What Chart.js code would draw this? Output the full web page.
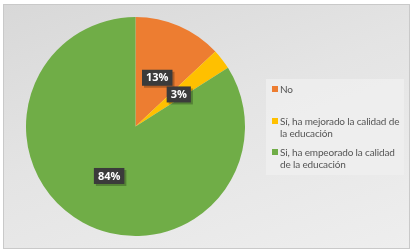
<!DOCTYPE html>
<html>
<head>
<meta charset="utf-8">
<script src="https://cdn.jsdelivr.net/npm/chart.js@4/dist/chart.umd.min.js"></script>
<style>
  html, body { margin: 0; padding: 0; background: #ffffff; }
  #frame {
    position: absolute; left: 3px; top: 4px; width: 405px; height: 243px;
    border: 1px solid #c9c9c9;
    background: linear-gradient(160deg, #d8d8d8 0%, #e4e4e4 45%, #eeeeee 100%);
  }
  #wrap { position: absolute; left: 0; top: 0; width: 412px; height: 251px; }
  #legend {
    position: absolute; left: 266px; top: 79px; width: 138px; height: 96px;
    background: rgba(238, 238, 238, 0.85);
    font-family: Lato, "Open Sans", sans-serif; font-size: 10px; letter-spacing: -0.15px;
    color: #555555; line-height: 12px;
  }
  .item { position: absolute; left: 14px; width: 124px; white-space: nowrap; }
  .sw { position: absolute; left: -8px; top: 3px; width: 6px; height: 6px; }
</style>
</head>
<body>
<div id="frame"></div>
<div id="wrap"><canvas id="pie" width="412" height="251"></canvas></div>
<div id="legend"></div>
<script>
const labels = ["No", "Sí, ha mejorado la calidad de la educación", "Si, ha empeorado la calidad de la educación"];
const legendLines = [["No"], ["Sí, ha mejorado la calidad de", "la educación"], ["Si, ha empeorado la calidad", "de la educación"]];
const values = [13, 3, 84];
const colors = ["#ED7D31", "#FFC000", "#70AD47"];
const legendTops = [4, 36, 67];

// legend built from the arrays
const legend = document.getElementById("legend");
legendLines.forEach((lines, i) => {
  const div = document.createElement("div");
  div.className = "item";
  div.style.top = legendTops[i] + "px";
  div.innerHTML = '<span class="sw" style="background:' + colors[i] + '"></span>' + lines.join("<br>");
  legend.appendChild(div);
});

// dark boxed percent labels at each slice's middle
const boxLabels = {
  id: "boxLabels",
  afterDatasetsDraw(chart) {
    const ctx = chart.ctx;
    const meta = chart.getDatasetMeta(0);
    ctx.save();
    ctx.font = "bold 11px 'Open Sans', sans-serif";
    ctx.textAlign = "center";
    ctx.textBaseline = "middle";
    meta.data.forEach((arc, i) => {
      const p = arc.tooltipPosition();
      const y = p.y + 1.5;
      const txt = values[i] + "%";
      const w = ctx.measureText(txt).width + 8;
      const h = 16;
      ctx.fillStyle = "rgba(0,0,0,0.25)";
      ctx.fillRect(p.x - w / 2 + 2, y - h / 2 + 2, w, h);
      ctx.fillStyle = "#3b3b3b";
      ctx.fillRect(p.x - w / 2, y - h / 2, w, h);
      ctx.fillStyle = "#ffffff";
      ctx.fillText(txt, p.x, y + 0.5);
    });
    ctx.restore();
  }
};

new Chart(document.getElementById("pie"), {
  type: "pie",
  data: {
    labels: labels,
    datasets: [{
      data: values,
      backgroundColor: colors,
      borderWidth: 0
    }]
  },
  options: {
    responsive: false,
    animation: false,
    layout: { padding: { left: 26, top: 17, right: 167, bottom: 15 } },
    plugins: {
      legend: { display: false },
      tooltip: { enabled: false }
    }
  },
  plugins: [boxLabels]
});
</script>
</body>
</html>
